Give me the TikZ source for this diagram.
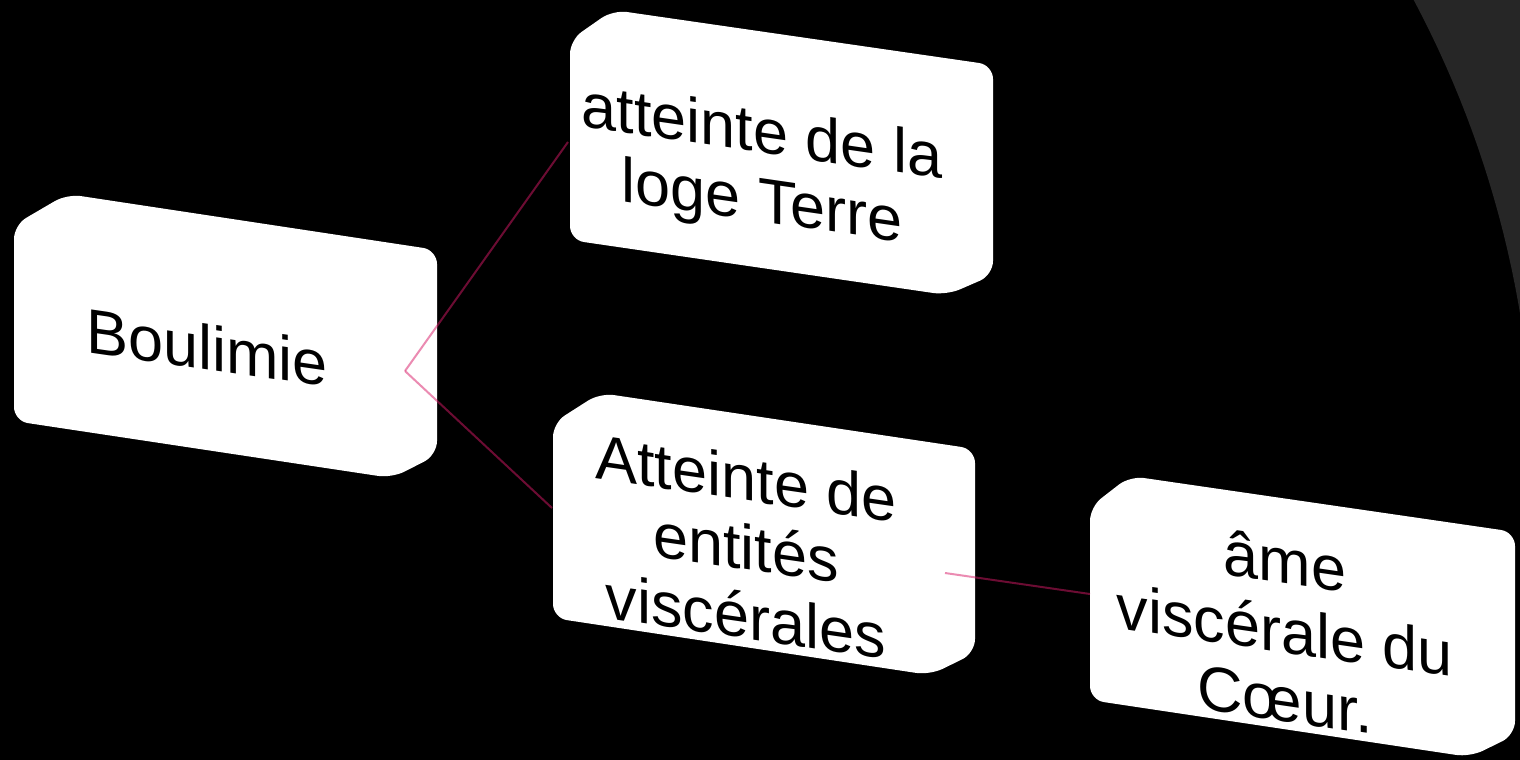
\documentclass[tikz,border=0pt]{standalone}
\usepackage{fontspec}
\setmainfont{Liberation Sans}
\definecolor{bggray}{HTML}{262626}
\definecolor{linkc}{rgb}{0.85,0.1,0.4}
\begin{document}
\begin{tikzpicture}[x=1pt,y=-1pt,
  boxfill/.style={fill=white, rounded corners=14pt},
  txt/.style={align=center, font=\fontsize{63}{69}\selectfont, text=black,
              inner sep=0pt, yslant=-0.145, transform shape},
  link/.style={draw=linkc, draw opacity=0.5, line width=2pt}]
\useasboundingbox (0,0) rectangle (1520,760);
\fill[black] (0,0) rectangle (1520,760);
% grey ring segment, top right
\fill[bggray] (1520,0) -- plot[domain=28.05:9.2, samples=60, smooth]
  ({508+1026*cos(\x)},{482-1026*sin(\x)}) -- (1520,330) -- cycle;
% boxes
\fill[boxfill] (14,225) -- (67,194) -- (437,250) -- (437,455) -- (392,478) -- (14,421) -- cycle;
\fill[boxfill] (570,40) -- (613,10) -- (993,65) -- (993,275) -- (947,295) -- (570,240) -- cycle;
\fill[boxfill] (553,423) -- (600,393) -- (975,449) -- (975,653) -- (930,675) -- (553,618) -- cycle;
\fill[boxfill] (1090,507) -- (1130,476) -- (1515,532) -- (1515,735) -- (1470,757) -- (1090,700) -- cycle;
% texts
\node[txt] (boul) at (207,347) {Boulimie};
\node[txt] (terre) at (762,171) {atteinte de la\\loge Terre};
\node[txt] (visc) at (746,547) {Atteinte de\\entités\\viscérales};
\node[txt] (coeur) at (1285,630) {âme\\viscérale du\\Cœur.};
% connector ends
\coordinate (bhub) at (405,371);
\coordinate (tend) at (568,142);
\coordinate (vend) at (552,508);
\coordinate (vhub) at (945,573);
\coordinate (cend) at (1090,594);
\draw[link] (bhub) -- (tend);
\draw[link] (bhub) -- (vend);
\draw[link] (vhub) -- (cend);
\end{tikzpicture}
\end{document}
